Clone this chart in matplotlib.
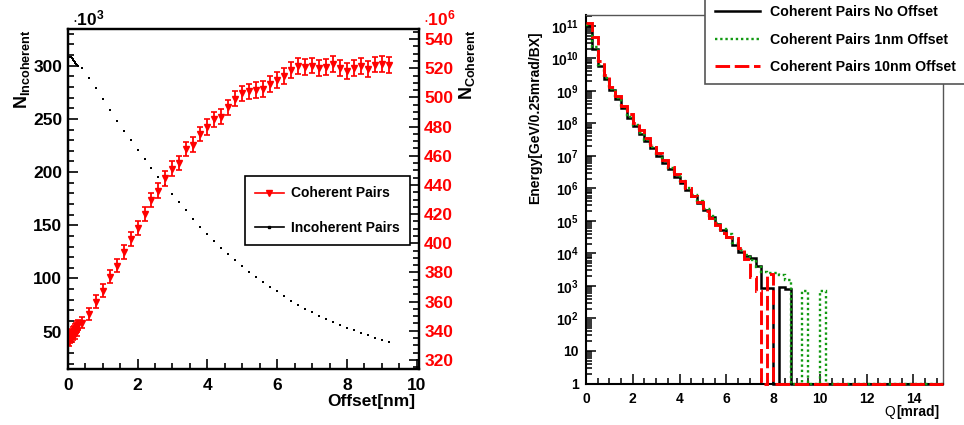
import numpy as np
import matplotlib
matplotlib.use('Agg')
import matplotlib.pyplot as plt
from matplotlib.ticker import MultipleLocator, FixedLocator, FuncFormatter, LogLocator, NullFormatter
from matplotlib.lines import Line2D

plt.rcParams['font.family'] = ['Liberation Sans', 'DejaVu Sans']
plt.rcParams['font.weight'] = 'bold'
plt.rcParams['mathtext.fontset'] = 'custom'
plt.rcParams['mathtext.rm'] = 'Liberation Sans:bold'
plt.rcParams['mathtext.bf'] = 'Liberation Sans:bold'
plt.rcParams['mathtext.it'] = 'Liberation Sans:bold'
plt.rcParams['mathtext.sf'] = 'Liberation Sans:bold'
plt.rcParams['mathtext.default'] = 'bf'

# ---------------- data: left panel ----------------
offset_nm = [0.00, 0.02, 0.04, 0.06, 0.08, 0.10, 0.12, 0.14, 0.16, 0.18,
             0.20, 0.22, 0.24, 0.26, 0.28, 0.30,
             0.4, 0.6, 0.8, 1.0, 1.2, 1.4, 1.6, 1.8, 2.0, 2.2,
             2.4, 2.6, 2.8, 3.0, 3.2, 3.4, 3.6, 3.8, 4.0, 4.2,
             4.4, 4.6, 4.8, 5.0, 5.2, 5.4, 5.6, 5.8, 6.0, 6.2,
             6.4, 6.6, 6.8, 7.0, 7.2, 7.4, 7.6, 7.8, 8.0, 8.2,
             8.4, 8.6, 8.8, 9.0, 9.2]

# coherent pairs (x 10^6)
n_coherent = [334, 336, 333, 337, 335, 338, 336, 339, 337, 340,
              338, 341, 342, 340, 343, 344,
              345.6, 351.3, 360.0, 367.5, 377.1, 384.7, 393.8, 402.7, 410.5, 420.3,
              429.7, 436.1, 444.5, 451.2, 455.0, 464.6, 467.6, 474.9, 479.7, 485.0,
              486.8, 493.2, 499.1, 502.8, 504.2, 505.1, 505.8, 509.2, 511.9, 514.7,
              518.6, 521.3, 521.1, 521.8, 519.9, 521.1, 522.9, 520.4, 518.3, 520.4,
              521.5, 519.5, 522.5, 523.1, 522.0]
n_coherent_err = [3.5, 3.5, 3.5, 3.5, 3.5, 3.5, 3.5, 3.5, 3.5, 3.5,
                  3.5, 3.5, 3.5, 3.5, 3.5, 3.5,
                  4.0, 4.2, 4.3, 4.4, 4.5, 4.6, 4.7, 4.7, 4.8, 4.8,
                  4.9, 4.9, 5.0, 5.0, 5.0, 5.1, 5.1, 5.1, 5.2, 5.2,
                  5.2, 5.2, 5.3, 5.3, 5.3, 5.3, 5.3, 5.3, 5.3, 5.3,
                  5.4, 5.4, 5.4, 5.4, 5.4, 5.4, 5.4, 5.4, 5.4, 5.4,
                  5.4, 5.4, 5.4, 5.4, 5.4]

# incoherent pairs (x 10^3)
n_incoherent = [304.0, 306.5, 308.0, 308.5, 308.3, 307.8, 307.0, 306.2, 305.3, 304.4,
                303.5, 302.6, 301.8, 301.0, 300.3, 299.6,
                297.5, 288.7, 279.0, 268.4, 258.3, 248.3, 238.6, 230.1, 221.1, 212.3,
                204.1, 195.7, 187.5, 179.7, 172.2, 164.0, 156.2, 148.7, 141.8, 135.2,
                128.9, 122.7, 117.4, 111.4, 106.4, 101.4, 96.4, 92.0, 87.9, 83.2,
                79.1, 75.4, 71.6, 68.2, 65.0, 61.9, 59.1, 56.3, 53.8, 51.3,
                49.1, 46.6, 44.4, 42.5, 40.6]

# ---------------- data: right panel (0.25 mrad bins, 0 .. 15.25 mrad) ----------------
bin_width = 0.25
n_bins = 61
energy_no_offset = [1.0e11, 2.0e10, 5.9e9, 2.3e9, 1.05e9, 5.5e8, 2.9e8, 1.48e8, 8.3e7, 4.8e7,
                    2.8e7, 1.78e7, 1.02e7, 6.2e6, 4.0e6, 2.3e6, 1.48e6, 9.1e5, 5.8e5, 3.5e5,
                    2.1e5, 1.32e5, 7.9e4, 5.2e4, 3.2e4, 1.86e4, 1.12e4, 8.3e3, 7.2e3, 4.0e3,
                    850, 850, 0, 910, 790, 0, 0, 0, 0, 0,
                    0, 0, 0, 0, 0, 0, 0, 0, 0, 0,
                    0, 0, 0, 0, 0, 0, 0, 0, 0, 0,
                    0]
energy_1nm = [1.05e11, 2.2e10, 6.3e9, 2.5e9, 1.12e9, 6.0e8, 3.2e8, 1.6e8, 8.9e7, 5.2e7,
              3.0e7, 1.9e7, 1.12e7, 6.8e6, 4.2e6, 2.5e6, 1.66e6, 1.05e6, 6.3e5, 4.0e5,
              2.4e5, 1.41e5, 8.9e4, 5.6e4, 4.0e4, 2.1e4, 1.26e4, 8.9e3, 6.3e3, 3.8e3,
              2.75e3, 2.45e3, 2.45e3, 2.2e3, 1.55e3, 0, 0, 710, 0, 0,
              710, 0, 0, 0, 0, 0, 0, 0, 0, 0,
              0, 0, 0, 0, 0, 0, 0, 0, 0, 0,
              0]
energy_10nm = [1.26e11, 4.4e10, 8.3e9, 3.0e9, 1.32e9, 6.9e8, 3.5e8, 1.9e8, 1.05e8, 6.3e7,
               3.5e7, 2.2e7, 1.26e7, 7.4e6, 4.6e6, 2.7e6, 1.66e6, 1.02e6, 6.0e5, 3.8e5,
               2.0e5, 1.2e5, 7.6e4, 4.2e4, 3.2e4, 2.9e4, 1.45e4, 6.6e3, 1.95e3, 710,
               0, 2.3e3, 0, 0, 0, 0, 0, 0, 0, 0,
               0, 0, 0, 0, 0, 0, 0, 0, 0, 0,
               0, 0, 0, 0, 0, 0, 0, 0, 0, 0,
               0]

W, H = 964, 425
fig = plt.figure(figsize=(W / 100, H / 100), dpi=100)

def fx(px):
    return px / W

def fy(py):
    return 1 - py / H

# ================= LEFT PANEL =================
ax = fig.add_axes([fx(67.7), fy(369.3), fx(419.3 - 67.7), (369.3 - 28.7) / H])
ax.plot(offset_nm, n_incoherent, ls='none', marker='s', ms=1.8, mew=0, color='black')
ax.set_xlim(0, 10.07)
ax.set_ylim(14.6, 334.8)
ax.xaxis.set_major_locator(MultipleLocator(2))
ax.xaxis.set_minor_locator(MultipleLocator(0.5))
ax.yaxis.set_major_locator(MultipleLocator(50))
ax.yaxis.set_minor_locator(MultipleLocator(10))
ax.tick_params(axis='both', which='both', direction='in', top=False, right=False, width=1.2)
ax.tick_params(axis='both', which='major', length=7.5, labelsize=12.5)
ax.tick_params(axis='both', which='minor', length=4)
ax.tick_params(axis='y', pad=4)
ax.tick_params(axis='x', pad=6)
for s in ax.spines.values():
    s.set_linewidth(1.6)
    s.set_color('black')

ax2 = ax.twinx()
ax2.errorbar(offset_nm, n_coherent, yerr=n_coherent_err, fmt='v', color='red',
             ms=4.6, elinewidth=1.3, capsize=2, capthick=1.2)
ax2.set_ylim(313.6, 547.1)
ax2.yaxis.set_major_locator(MultipleLocator(20))
ax2.yaxis.set_minor_locator(MultipleLocator(5))
ax2.tick_params(axis='y', which='both', direction='in', width=1.2, colors='black')
ax2.tick_params(axis='y', which='major', length=7.5, labelsize=12.5, pad=3.5)
ax2.tick_params(axis='y', which='minor', length=4)
ax2.yaxis.set_tick_params(labelcolor='red')
for s in ax2.spines.values():
    s.set_linewidth(1.6)
    s.set_color('black')

leg1 = ax2.legend(handles=[Line2D([], [], color='red', marker='v', ms=5, lw=1.2),
                           Line2D([], [], color='black', marker='s', ms=2, lw=1.2)],
                  labels=['Coherent Pairs', 'Incoherent Pairs'],
                  loc='upper left', bbox_to_anchor=(fx(244.7), fy(176)),
                  bbox_transform=fig.transFigure, fontsize=10, frameon=True,
                  fancybox=False, edgecolor='black', framealpha=1, borderpad=0.75,
                  labelspacing=1.45, handlelength=2.06, handletextpad=0.5, borderaxespad=0)
leg1.get_frame().set_linewidth(1.2)

fig.text(fx(72), fy(25), r'$\cdot10^{3}$', fontsize=12.5, ha='left', va='baseline')
fig.text(fx(423), fy(25), r'$\cdot10^{6}$', fontsize=12.5, ha='left', va='baseline', color='red')
fig.text(fx(22.5), fy(30), r'$N_{Incoherent}$', rotation=90, ha='center', va='top', fontsize=13)
fig.text(fx(467), fy(30), r'$N_{Coherent}$', rotation=90, ha='center', va='top', fontsize=13)
fig.text(fx(415), fy(401.7), 'Offset[nm]', ha='right', va='center', fontsize=12.5)

# ================= RIGHT PANEL =================
axr = fig.add_axes([fx(586), fy(383.5), fx(942.7 - 586), (383.5 - 14.7) / H])
edges = np.linspace(0, bin_width * n_bins, n_bins + 1)
ymin = 1.0

def floor_zero(v):
    v = np.asarray(v, dtype=float)
    return np.where(v > 0, v, ymin)

axr.stairs(floor_zero(energy_no_offset), edges, baseline=None, color='black', lw=1.8,
           clip_on=False, zorder=3)
axr.stairs(floor_zero(energy_1nm), edges, baseline=None, color='#119911', lw=1.7,
           linestyle=(0, (1.0, 1.2)), clip_on=False, zorder=3.1)
axr.stairs(floor_zero(energy_10nm), edges, baseline=None, color='red', lw=2.1,
           linestyle=(0, (5.0, 1.6)), clip_on=False, zorder=3.2)
axr.set_yscale('log')
axr.set_xlim(0, 15.25)
axr.set_ylim(ymin, 2.2e11)
axr.yaxis.set_major_locator(FixedLocator([10.0 ** e for e in range(0, 12)]))
axr.yaxis.set_minor_locator(LogLocator(base=10, subs=np.arange(2, 10), numticks=30))
axr.yaxis.set_minor_formatter(NullFormatter())

def logfmt(v, pos):
    e = int(round(np.log10(v)))
    if e == 0:
        return '1'
    if e == 1:
        return '10'
    return r'$10^{%d}$' % e

axr.yaxis.set_major_formatter(FuncFormatter(logfmt))
axr.xaxis.set_major_locator(MultipleLocator(2))
axr.xaxis.set_minor_locator(MultipleLocator(0.5))
axr.tick_params(axis='both', which='both', direction='in', top=False, right=False, width=1.1)
axr.tick_params(axis='both', which='major', length=7.5, labelsize=10)
axr.tick_params(axis='both', which='minor', length=4)
axr.tick_params(axis='y', pad=5)
axr.tick_params(axis='x', pad=6)
for k in ['left', 'bottom']:
    axr.spines[k].set_linewidth(1.5)
    axr.spines[k].set_color('black')
for k in ['top', 'right']:
    axr.spines[k].set_linewidth(1.0)
    axr.spines[k].set_color('#555555')

fig.text(fx(535), fy(32), 'Energy[GeV/0.25mrad/BX]', rotation=90, ha='center', va='top', fontsize=10)
fig.text(fx(939.3), fy(411.7), '[mrad]', ha='right', va='center', fontsize=10)
fig.text(fx(884), fy(411.7), 'Q', ha='left', va='center', fontsize=10, fontweight='normal')

leg2 = fig.legend(handles=[Line2D([], [], color='black', lw=1.8),
                           Line2D([], [], color='#119911', lw=1.7, linestyle=(0, (1.0, 1.2))),
                           Line2D([], [], color='red', lw=2.1, linestyle=(0, (5.0, 1.6)))],
                  labels=['Coherent Pairs No Offset', 'Coherent Pairs 1nm Offset',
                          'Coherent Pairs 10nm Offset'],
                  loc='lower left', bbox_to_anchor=(fx(705), fy(84)),
                  bbox_transform=fig.transFigure, fontsize=10.2, frameon=True,
                  fancybox=False, edgecolor='#555555', framealpha=1, borderpad=0.7,
                  labelspacing=0.95, handlelength=3.17, handletextpad=0.7, borderaxespad=0)
leg2.get_frame().set_linewidth(1.2)

fig.savefig('out.png', dpi=100)
